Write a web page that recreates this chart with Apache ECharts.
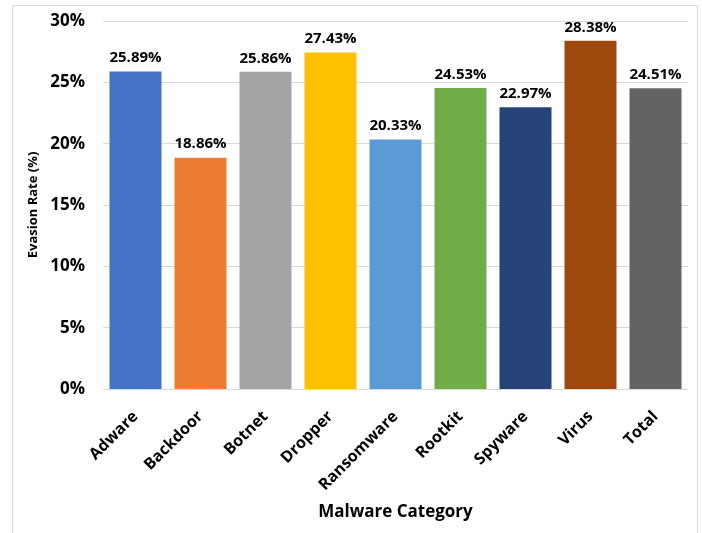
<!DOCTYPE html>
<html><head><meta charset="utf-8">
<script src="https://cdn.jsdelivr.net/npm/echarts@6/dist/echarts.min.js"></script>
<style>html,body{margin:0;padding:0;background:#fff}#c{width:702px;height:533px}</style>
</head><body><div id="c"></div>
<script>
const categories = ["Adware","Backdoor","Botnet","Dropper","Ransomware","Rootkit","Spyware","Virus","Total"];
const values = [25.89,18.86,25.86,27.43,20.33,24.53,22.97,28.38,24.51];
const colors = ["#4472C4","#ED7D31","#A5A5A5","#FFC000","#5B9BD5","#70AD47","#264478","#9E480E","#636363"];
const yTicks = [0,5,10,15,20,25,30];
const font = "'Open Sans', 'Noto Sans', sans-serif";
const chart = echarts.init(document.getElementById('c'), null, {renderer:'canvas'});
chart.setOption({
  animation:false,
  graphic:[{type:'rect',shape:{x:12.5,y:5.5,width:685,height:540},style:{fill:null,stroke:'#d9d9d9',lineWidth:1},silent:true}],
  grid:{left:103,right:14,top:21,bottom:144},
  xAxis:{type:'category',data:categories,
    axisLine:{lineStyle:{color:'#d9d9d9'}},axisTick:{show:false},
    axisLabel:{rotate:45,fontFamily:font,fontWeight:'bold',fontSize:16,color:'#000',margin:25,padding:[7,0,0,0],interval:0},
    name:'Malware Category',nameLocation:'middle',nameGap:115,
    nameTextStyle:{fontFamily:font,fontWeight:'bold',fontSize:17,color:'#000'}},
  yAxis:{type:'value',min:yTicks[0],max:yTicks[yTicks.length-1],interval:5,
    axisLabel:{formatter:'{value}%',fontFamily:font,fontWeight:'bold',fontSize:17,color:'#000',margin:18},
    splitLine:{lineStyle:{color:'#d9d9d9'}},axisLine:{show:false},axisTick:{show:false},
    name:'Evasion Rate (%)',nameLocation:'middle',nameGap:59,
    nameTextStyle:{fontFamily:font,fontWeight:'bold',fontSize:13,color:'#000'}},
  series:[{type:'bar',barCategoryGap:'20%',
    data:values.map((v,i)=>({value:v,itemStyle:{color:colors[i]}})),
    label:{show:true,position:'top',distance:6,formatter:p=>p.value.toFixed(2)+'%',
      fontFamily:font,fontWeight:'bold',fontSize:15,color:'#000'}}]
});
</script></body></html>
